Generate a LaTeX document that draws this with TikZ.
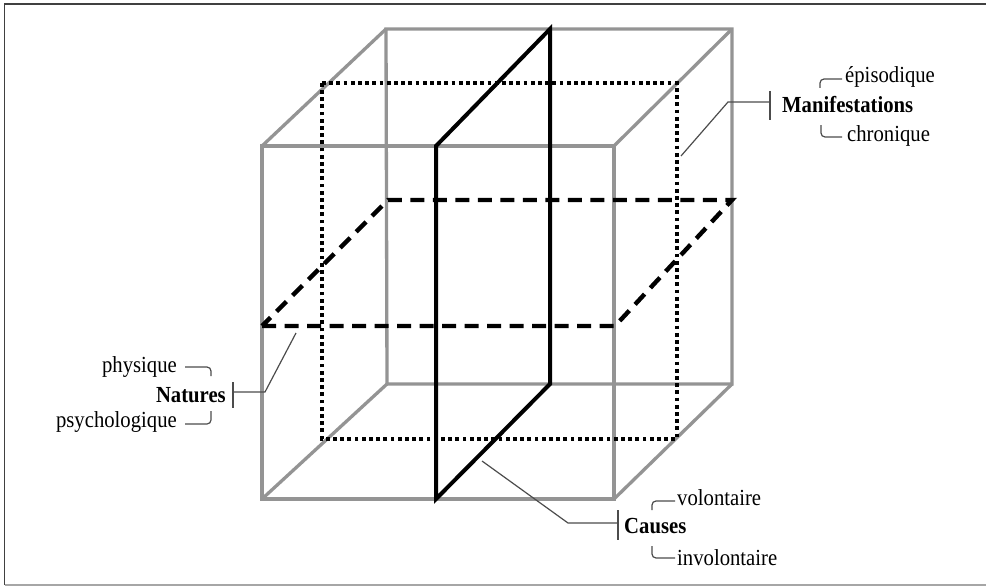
\documentclass[tikz,border=0pt]{standalone}
\usepackage{fontspec}
\setmainfont{Liberation Serif}[FakeStretch=0.9]
\begin{document}
\begin{tikzpicture}[x=1pt,y=-1pt,
  cube/.style={draw=black!42,line width=3.3pt,line join=miter},
  midplane/.style={draw=black,line width=4pt,dash pattern=on 3.8pt off 3.4pt},
  hplane/.style={draw=black,line width=4.4pt,dash pattern=on 14pt off 8.5pt},
  vplane/.style={draw=black,line width=4pt,line join=miter},
  leader/.style={draw=black!70,line width=1.2pt},
  brk/.style={draw=black!70,line width=1.2pt,rounded corners=4pt},
  lbl/.style={inner sep=0pt,font=\fontsize{23}{26}\selectfont},
  blbl/.style={lbl,font=\fontsize{23}{26}\selectfont\bfseries}]
\useasboundingbox (0,0) rectangle (986,586);
% frame
\draw[black!75,line width=1.6pt] (4.5,585) -- (4.5,4) -- (986,4);
\draw[black!35,line width=1.2pt] (4.5,585) -- (986,585);
% cube vertices
\coordinate (FTL) at (262,146); \coordinate (FTR) at (614,146);
\coordinate (FBR) at (614,499); \coordinate (FBL) at (262,499);
\coordinate (BTL) at (386,29);  \coordinate (BTR) at (732,29);
\coordinate (BBR) at (732,384); \coordinate (BBL) at (387,384);
% cube
\draw[cube] (FTL) -- (FTR) -- (FBR) -- (FBL) -- cycle;
\draw[cube] (BTL) -- (BTR) -- (BBR) -- (BBL) -- cycle;
\draw[cube] (FTL) -- (BTL) (FTR) -- (BTR) (FBR) -- (BBR) (FBL) -- (BBL);
% dotted mid-depth plane
\coordinate (D1) at (322,83); \coordinate (D2) at (677,83);
\coordinate (D3) at (677,439); \coordinate (D4) at (322,439);
\draw[midplane] (D1) -- (D2) -- (D3) -- (D4) -- cycle;
% dashed horizontal plane
\coordinate (H1) at (262,326); \coordinate (H2) at (615,326);
\coordinate (H3) at (732,200); \coordinate (H4) at (388,200);
\draw[hplane] (H1) -- (H2) -- (H3) -- (H4) -- cycle;
% solid vertical plane
\coordinate (V1) at (436,146); \coordinate (V2) at (550,29);
\coordinate (V3) at (550,384); \coordinate (V4) at (436,499);
\draw[vplane] (V1) -- (V2) -- (V3) -- (V4) -- cycle;
% labels
\node[blbl,anchor=base west] (man) at (782,113) {Manifestations};
\node[lbl,anchor=base west] (epi) at (845,83) {épisodique};
\node[lbl,anchor=base west] (chr) at (847,142) {chronique};
\node[blbl,anchor=base east] (nat) at (226,402) {Natures};
\node[lbl,anchor=base east] (phy) at (177,372) {physique};
\node[lbl,anchor=base east] (psy) at (177,427) {psychologique};
\node[blbl,anchor=base west] (cau) at (624,533) {Causes};
\node[lbl,anchor=base west] (vol) at (677,505) {volontaire};
\node[lbl,anchor=base west] (inv) at (677,565) {involontaire};
% leaders
\coordinate (mS) at (681,156); \coordinate (mB) at (728,102); \coordinate (mT) at (770,102);
\draw[leader] (mS) -- (mB) -- (mT);
\draw[leader] (770,91) -- (770,120);
\coordinate (nS) at (296,333); \coordinate (nB) at (265,392); \coordinate (nT) at (233,392);
\draw[leader] (nS) -- (nB) -- (nT);
\draw[leader] (233,382) -- (233,408);
\coordinate (cS) at (482,461); \coordinate (cB) at (568,523); \coordinate (cT) at (618,523);
\draw[leader] (cS) -- (cB) -- (cT);
\draw[leader] (618,510) -- (618,540);
% brackets
\draw[brk] (820,88) |- (842,79);
\draw[brk] (821,125) |- (842,137);
\draw[brk] (185,367) -| (211,376);
\draw[brk] (185,424) -| (211,411);
\draw[brk] (652,510) |- (675,501);
\draw[brk] (652,546) |- (675,558);
\end{tikzpicture}
\end{document}
